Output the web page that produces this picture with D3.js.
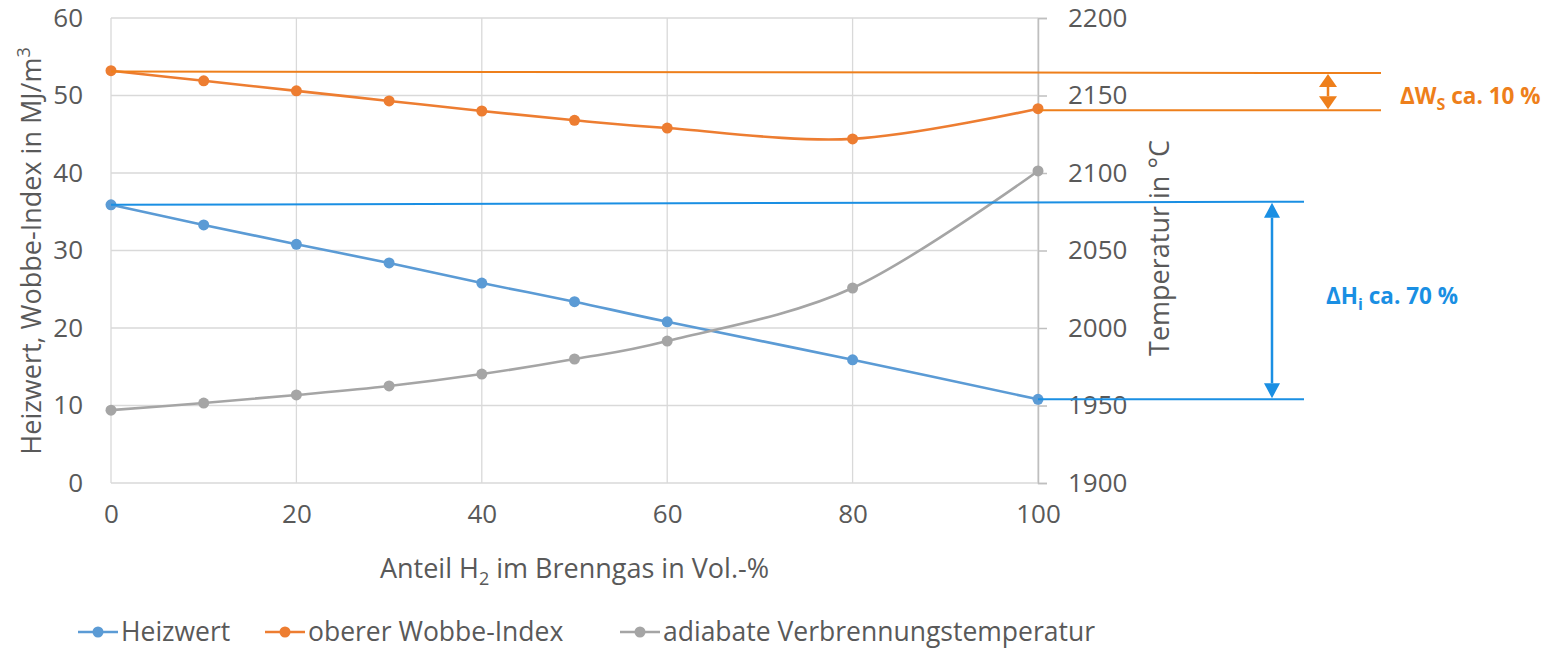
<!DOCTYPE html>
<html>
<head>
<meta charset="utf-8">
<script src="https://cdn.jsdelivr.net/npm/d3@7"></script>
<style>
  body { margin: 0; background: #fff; }
  svg { font-family: "Open Sans", sans-serif; }
  .tick text { fill: #595959; }
</style>
</head>
<body>
<svg width="1549" height="648"></svg>
<script>
// Daten
var anteilH2 = [0, 10, 20, 30, 40, 50, 60, 80, 100];
var heizwert = [35.9, 33.3, 30.8, 28.4, 25.8, 23.4, 20.8, 15.9, 10.8];
var wobbe = [53.2, 51.9, 50.6, 49.3, 48.0, 46.8, 45.8, 44.4, 48.3];
var temperatur = [1947, 1951.6, 1956.8, 1962.6, 1970.3, 1980, 1991.6, 2025.8, 2101.3];
var xTicks = [0, 20, 40, 60, 80, 100];
var yTicks = [0, 10, 20, 30, 40, 50, 60];
var y2Ticks = [1900, 1950, 2000, 2050, 2100, 2150, 2200];
var serien = [
  {name: "Heizwert", values: heizwert, color: "#5B9BD5", axis: "left"},
  {name: "oberer Wobbe-Index", values: wobbe, color: "#ED7D31", axis: "left"},
  {name: "adiabate Verbrennungstemperatur", values: temperatur, color: "#A5A5A5", axis: "right"}
];

var svg = d3.select("svg");
var x = d3.scaleLinear().domain([0, 100]).range([111, 1038]);
var y = d3.scaleLinear().domain([0, 60]).range([483, 18]);
var y2 = d3.scaleLinear().domain([1900, 2200]).range([483, 18]);

// Gitterlinien
svg.append("g").selectAll("line").data(yTicks).enter().append("line")
  .attr("x1", x(0)).attr("x2", x(100))
  .attr("y1", d => y(d)).attr("y2", d => y(d))
  .style("stroke", "#D9D9D9").style("stroke-width", 1.3);
svg.append("g").selectAll("line").data(xTicks).enter().append("line")
  .attr("x1", d => x(d)).attr("x2", d => x(d))
  .attr("y1", y(0)).attr("y2", y(60))
  .style("stroke", "#D9D9D9").style("stroke-width", 1.3);

// Achsen
var xAxis = svg.append("g").attr("transform", "translate(0," + y(0) + ")")
  .call(d3.axisBottom(x).tickValues(xTicks).tickSize(0).tickPadding(22));
xAxis.select(".domain").remove();

var yAxis = svg.append("g").attr("transform", "translate(" + x(0) + ",0)")
  .call(d3.axisLeft(y).tickValues(yTicks).tickSize(0).tickPadding(28));
yAxis.select(".domain").remove();

var y2Axis = svg.append("g").attr("transform", "translate(" + x(100) + ",0)")
  .call(d3.axisRight(y2).tickValues(y2Ticks).tickFormat(d3.format("d"))
    .tickSize(9).tickSizeOuter(9).tickPadding(21));
y2Axis.select(".domain").style("stroke", "#BFBFBF").style("stroke-width", 1.5);
y2Axis.selectAll(".tick line").style("stroke", "#BFBFBF").style("stroke-width", 1.5);

svg.selectAll(".tick text").style("font-size", "26px").style("font-family", "Open Sans");

// Achsentitel
svg.append("text")
  .attr("transform", "translate(41,251) rotate(-90)")
  .attr("text-anchor", "middle")
  .style("font-size", "27px").style("fill", "#595959")
  .html('Heizwert, Wobbe-Index in MJ/m<tspan dy="-11" font-size="18px">3</tspan>');

svg.append("text")
  .attr("transform", "translate(1169,248) rotate(-90)")
  .attr("text-anchor", "middle")
  .style("font-size", "27px").style("fill", "#595959")
  .text("Temperatur in °C");

svg.append("text")
  .attr("x", (x(0) + x(100)) / 2).attr("y", 578)
  .attr("text-anchor", "middle")
  .style("font-size", "27px").style("fill", "#595959")
  .html('Anteil H<tspan dy="7" font-size="18px">2</tspan><tspan dy="-7"> im Brenngas in Vol.-%</tspan>');

// Kurven (geglättet wie in Excel)
serien.forEach(function (s) {
  var yy = s.axis === "left" ? y : y2;
  var pts = anteilH2.map((d, i) => [x(d), yy(s.values[i])]);
  svg.append("path")
    .attr("d", d3.line().curve(d3.curveCatmullRom.alpha(0))(pts))
    .style("fill", "none").style("stroke", s.color).style("stroke-width", 2.6);
  svg.append("g").selectAll("circle").data(pts).enter().append("circle")
    .attr("cx", d => d[0]).attr("cy", d => d[1]).attr("r", 5.5)
    .style("fill", s.color);
});

// Annotationen
var orangeAnn = "#EE7F1B", blauAnn = "#1A8FE3";
function pfeil(xp, yTop, yBot, color, head, hw) {
  svg.append("line").attr("x1", xp).attr("x2", xp).attr("y1", yTop + head).attr("y2", yBot - head)
    .style("stroke", color).style("stroke-width", 2.5);
  svg.append("path").attr("d", "M" + xp + "," + yTop + "L" + (xp - hw) + "," + (yTop + head) + "L" + (xp + hw) + "," + (yTop + head) + "Z").style("fill", color);
  svg.append("path").attr("d", "M" + xp + "," + yBot + "L" + (xp - hw) + "," + (yBot - head) + "L" + (xp + hw) + "," + (yBot - head) + "Z").style("fill", color);
}

svg.append("line").attr("x1", x(0)).attr("x2", 1381).attr("y1", y(53.1)).attr("y2", y(52.9))
  .style("stroke", orangeAnn).style("stroke-width", 2);
svg.append("line").attr("x1", x(100)).attr("x2", 1381).attr("y1", y(48.1)).attr("y2", y(48.1))
  .style("stroke", orangeAnn).style("stroke-width", 2);
pfeil(1328, y(52.9) + 1, y(48.1) - 1, orangeAnn, 13, 9);
svg.append("text").attr("x", 1400).attr("y", 104)
  .style("font-size", "22.5px").style("font-weight", "bold").style("fill", orangeAnn)
  .html('ΔW<tspan dy="6" font-size="16px">S</tspan><tspan dy="-6"> ca. 10 %</tspan>');

svg.append("line").attr("x1", x(0)).attr("x2", 1304).attr("y1", y(35.9)).attr("y2", y(36.3))
  .style("stroke", blauAnn).style("stroke-width", 2);
svg.append("line").attr("x1", x(100)).attr("x2", 1304).attr("y1", y(10.8)).attr("y2", y(10.8))
  .style("stroke", blauAnn).style("stroke-width", 2);
pfeil(1272, y(36.3) + 1, y(10.8) - 1, blauAnn, 15, 8);
svg.append("text").attr("x", 1326).attr("y", 304)
  .style("font-size", "22.5px").style("font-weight", "bold").style("fill", blauAnn)
  .html('ΔH<tspan dy="6" font-size="16px">i</tspan><tspan dy="-6"> ca. 70 %</tspan>');

// Legende
var legX = [78, 265, 620];
var leg = svg.append("g").selectAll("g").data(serien).enter().append("g")
  .attr("transform", (d, i) => "translate(" + legX[i] + ",632)");
leg.append("line").attr("x1", 0).attr("x2", 40).attr("y1", 0).attr("y2", 0)
  .style("stroke", d => d.color).style("stroke-width", 2.6);
leg.append("circle").attr("cx", 20).attr("cy", 0).attr("r", 5.5).style("fill", d => d.color);
leg.append("text").attr("x", 43).attr("y", 9)
  .style("font-size", "26.5px").style("fill", "#595959")
  .text(d => d.name);
</script>
</body>
</html>
